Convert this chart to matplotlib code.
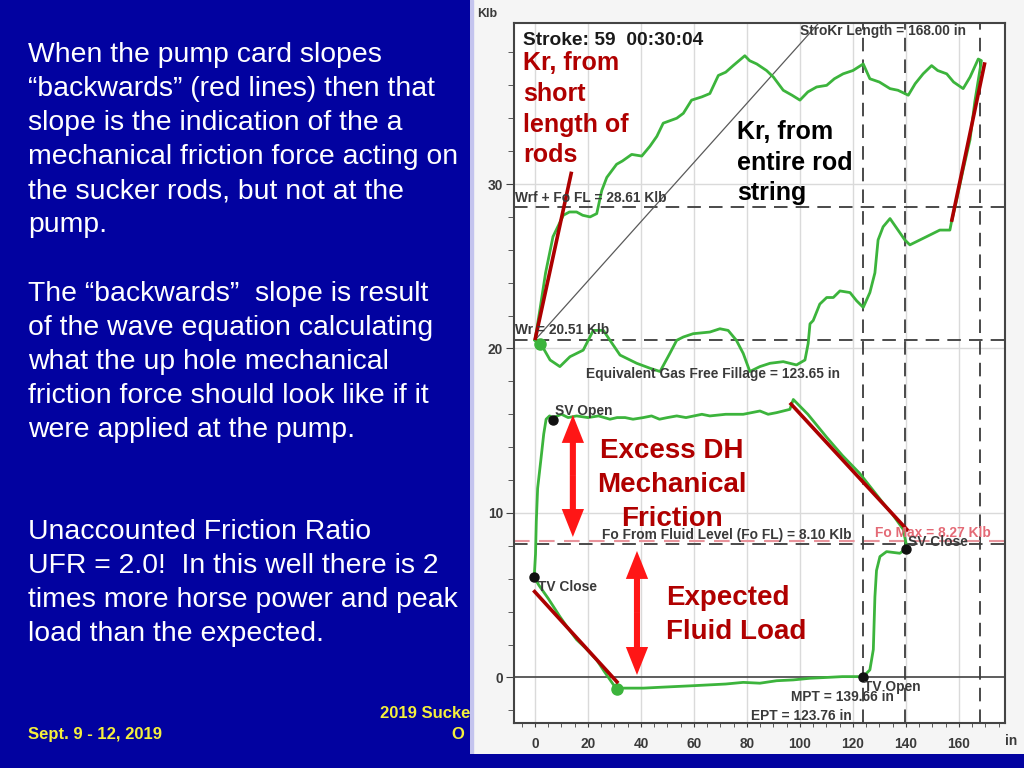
import matplotlib
matplotlib.use('Agg')
import matplotlib.pyplot as plt
from matplotlib.patches import Rectangle

plt.rcParams['font.family'] = ['Liberation Sans', 'DejaVu Sans']

# surface card, upstroke (left -> right)
up_x = [0, 2, 4, 6.8, 10.7, 13, 15.7, 18, 20.8, 23.3, 25.2, 27.1, 30.8, 33, 36.5, 40.3, 43.4, 46, 48.4,
        53.5, 56, 59.1, 63, 66, 69.2, 72, 74.8, 79.2, 81, 83.7, 87.4, 90, 93.7, 97, 100, 103, 106.3,
        110.1, 113, 116.3, 120, 123.9, 126.4, 130, 134, 137, 140.9, 143.5, 146.5, 149.7, 152, 155.4,
        158, 161.6, 164.2, 167.3, 168.5]
up_y = [20.51, 22.5, 24.6, 26.8, 28.1, 28.3, 28.3, 28.1, 28.0, 28.2, 29.6, 30.4, 31.2, 31.4, 31.8, 31.7,
        32.3, 32.9, 33.7, 34.0, 34.3, 35.1, 35.3, 35.5, 36.6, 36.8, 37.2, 37.8, 37.5, 37.3, 36.9, 36.5,
        35.7, 35.4, 35.1, 35.6, 35.9, 36.0, 36.4, 36.7, 36.9, 37.3, 36.4, 36.2, 35.8, 35.7, 35.4, 36.1,
        36.7, 37.2, 36.9, 36.7, 36.2, 35.8, 36.5, 37.6, 37.5]

# surface card, downstroke (right -> left)
dn_x = [168.5, 166, 164.2, 161.5, 159.1, 157.2, 156.6, 152.8, 147.8, 141.5, 139.6, 134, 131.4, 129.5,
        128.3, 126.4, 123.9, 121.4, 118.9, 115.1, 112.6, 110.1, 107.5, 105, 103.8, 103.1, 101.9, 98.7,
        93.7, 88.7, 84.9, 81.1, 78.6, 76, 72.9, 69.8, 66, 59.7, 56, 53.5, 50.9, 47.2, 43.4, 38.4, 32.1,
        28.3, 25.8, 22, 18.2, 13.2, 9.4, 5.7, 2.5, 0]
dn_y = [37.5, 35.0, 32.7, 30.8, 29.0, 27.7, 27.2, 27.2, 26.8, 26.3, 26.6, 27.9, 27.4, 26.6, 24.6, 23.4,
        22.5, 22.9, 23.4, 23.5, 23.1, 23.1, 22.7, 21.7, 21.5, 20.3, 19.3, 19.0, 19.2, 19.1, 18.9, 18.6,
        19.7, 20.5, 21.1, 21.2, 21.0, 20.9, 20.7, 20.5, 19.7, 18.6, 18.8, 19.1, 19.6, 20.5, 21.1, 21.1,
        19.9, 19.5, 18.9, 19.3, 20.2, 20.51]

# pump card (closed loop, starts at TV close)
pump_x = [-0.3, 0.2, 0.5, 1.0, 2.2, 3.3, 4.2, 5.5, 6.9, 10, 12.5, 15.7, 20, 24, 28.3, 31, 34, 37, 40.9,
          44, 47, 50, 53.5, 57, 60, 63, 66, 72, 78.6, 84.9, 88, 91.2, 96.2, 97.5, 103, 110.1, 116,
          122.6, 127, 131.4, 135, 139, 140.3, 139.9, 137.7, 132.7, 130.2, 128.9, 128.3, 127.7, 126.4,
          123.9, 116, 110.1, 103.8, 97.5, 91.2, 84.9, 78.6, 72, 66, 60, 53.5, 47, 40.9, 33.3, 30.8,
          26, 23.3, 19, 15.7, 12, 9.4, 5, 1.5, -0.3]
pump_y = [6.1, 7.5, 9.5, 11.5, 13.2, 14.8, 15.7, 15.9, 15.8, 16.0, 15.8, 15.9, 15.8, 15.9, 15.7, 15.8,
          15.8, 15.7, 15.8, 15.9, 15.7, 15.8, 15.9, 15.8, 15.9, 16.0, 15.9, 16.0, 16.0, 16.2, 16.0,
          16.1, 16.3, 16.9, 16.0, 14.6, 13.5, 12.4, 11.5, 10.6, 9.9, 9.0, 7.95, 7.8, 7.55, 7.65, 7.35,
          6.5, 4.9, 1.7, 0.46, 0.05, 0.05, 0.0, -0.05, -0.15, -0.2, -0.35, -0.3, -0.4, -0.45, -0.5,
          -0.55, -0.6, -0.65, -0.65, -0.72, 0.4, 1.06, 1.8, 2.3, 3.1, 3.7, 4.8, 5.6, 6.1]

# reference values from the card
stroke_len = 168.00
ept = 123.76
mpt = 139.66
wrf_fo = 28.61
wr = 20.51
fo_fl = 8.10
fo_max = 8.27
kr_slope = 0.18

green_dots = [(1.9, 20.3), (30.8, -0.72)]
black_dots = [(-0.4, 6.1), (6.9, 15.65), (140.0, 7.8), (123.9, 0.05)]

# red slope lines drawn on the slide
red_lines = [((0, 20.51), (13.8, 30.75)),
             ((157.2, 27.7), (169.8, 37.4)),
             ((96.2, 16.7), (140.9, 8.9)),
             ((-0.6, 5.3), (31.4, -0.35))]

# double arrows (x, y bottom, y top)
arrows = [(14.3, 8.54, 15.96), (38.5, 0.15, 7.69)]

left_lines = ["When the pump card slopes",
              "\u201cbackwards\u201d (red lines) then that",
              "slope is the indication of the a",
              "mechanical friction force acting on",
              "the sucker rods, but not at the",
              "pump.",
              "The \u201cbackwards\u201d  slope is result",
              "of the wave equation calculating",
              "what the up hole mechanical",
              "friction force should look like if it",
              "were applied at the pump.",
              "Unaccounted Friction Ratio",
              "UFR = 2.0!  In this well there is 2",
              "times more horse power and peak",
              "load than the expected."]
left_base = [62, 96, 130, 164, 198, 232, 301, 335, 369, 403, 437, 539, 573, 607, 641]

W, H = 1024, 768
def fx(px):
    return px / W
def fy(py):
    return 1 - py / H

fig = plt.figure(figsize=(10.24, 7.68), dpi=100)
fig.patch.set_facecolor('#0202A0')

# white panel holding the card
panel = fig.add_axes([fx(470), fy(754), fx(1024) - fx(470), fy(0) - fy(754)], zorder=0)
panel.set_facecolor('#F5F5F5')
panel.set_xticks([])
panel.set_yticks([])
for s in panel.spines.values():
    s.set_visible(False)
panel.add_patch(Rectangle((0, 0), 0.006, 1, transform=panel.transAxes, color='#C4C4EE'))

ax = fig.add_axes([fx(514), fy(723), fx(1005) - fx(514), fy(23) - fy(723)], zorder=1)
ax.set_facecolor('white')
ax.set_xlim(-7.92, 177.4)
ax.set_ylim(-2.77, 39.79)

for v in range(0, 161, 20):
    ax.axvline(v, color='#DADADA', lw=1, zorder=1)
for v in [10, 20, 30]:
    ax.axhline(v, color='#DADADA', lw=1, zorder=1)
ax.axhline(0, color='#505050', lw=1.3, zorder=2)

dash = (0, (7.5, 4.5))
for v in [ept, mpt, stroke_len]:
    ax.axvline(v, color='#3C3C3C', lw=1.3, ls=dash, zorder=2)
ax.axhline(fo_max, color='#E8949C', lw=1.5, ls=dash, zorder=2)
for v in [wrf_fo, wr, fo_fl]:
    ax.axhline(v, color='#3C3C3C', lw=1.3, ls=dash, zorder=2)

# Kr line for entire rod string
ax.plot([0, 120], [wr, wr + kr_slope * 120], color='#5A5A5A', lw=0.9, zorder=3)

ax.plot(up_x + dn_x, up_y + dn_y, color='#3CB43C', lw=2, zorder=4)
ax.plot(pump_x, pump_y, color='#3CB43C', lw=2, zorder=4)
ax.plot([p[0] for p in green_dots], [p[1] for p in green_dots], 'o', color='#3CB43C', ms=8, zorder=5)
ax.plot([p[0] for p in black_dots], [p[1] for p in black_dots], 'o', color='#111111', ms=6.5, zorder=5)

for (x0, y0), (x1, y1) in red_lines:
    ax.plot([x0, x1], [y0, y1], color='#AC0000', lw=2.6, solid_capstyle='butt', zorder=6)

for x, y0, y1 in arrows:
    mid = (y0 + y1) / 2
    for end in (y0, y1):
        ax.arrow(x, mid, 0, end - mid, width=2.3, head_width=8.4, head_length=1.7,
                 length_includes_head=True, color='#FF1616', lw=0, zorder=6)

lab = dict(fontsize=9.9, fontweight='bold', color='#3A3A3A', va='center', ha='left', zorder=7)
ax.text(-7.6, 29.15, 'Wrf + Fo FL = 28.61 Klb', **lab)
ax.text(-7.6, 21.13, 'Wr = 20.51 Klb', **lab)
ax.text(19.2, 18.45, 'Equivalent Gas Free Fillage = 123.65 in', **lab)
ax.text(7.5, 16.2, 'SV Open', **lab)
ax.text(25.3, 8.66, 'Fo From Fluid Level (Fo FL) = 8.10 Klb', **lab)
ax.text(128.3, 8.78, 'Fo Max = 8.27 Klb', **{**lab, 'color': '#E46A76'})
ax.text(140.8, 8.24, 'SV Close', **lab)
ax.text(1.1, 5.5, 'TV Close', **lab)
ax.text(124.2, -0.58, 'TV Open', **lab)
ax.text(96.6, -1.19, 'MPT = 139.66 in', **lab)
ax.text(81.5, -2.34, 'EPT = 123.76 in', **lab)
ax.text(100, 39.3, 'StroKr Length = 168.00 in', **lab)
ax.text(-4.5, 38.75, 'Stroke: 59  00:30:04', fontsize=13.8, fontweight='bold', color='#1A1A1A',
        va='center', ha='left', zorder=7)

ax.set_xticks(range(0, 161, 20))
ax.set_xticks(range(-5, 176, 5), minor=True)
ax.set_yticks([0, 10, 20, 30])
ax.set_yticks(range(-2, 39, 2), minor=True)
ax.tick_params(axis='x', which='both', length=3, color='#404040', pad=7, labelsize=9.9, labelcolor='#3A3A3A')
ax.tick_params(axis='y', which='major', length=6, color='#404040', pad=2, labelsize=9.9, labelcolor='#3A3A3A')
ax.tick_params(axis='y', which='minor', length=4, color='#404040')
ax.tick_params(which='minor', labelbottom=False, labelleft=False)
for t in ax.get_xticklabels() + ax.get_yticklabels():
    t.set_fontweight('bold')
for s in ax.spines.values():
    s.set_color('#444444')
    s.set_linewidth(1.5)

fig.text(fx(477), fy(14), 'Klb', fontsize=9, fontweight='bold', color='#3A3A3A', va='center', zorder=3)
fig.text(fx(1011), fy(741), 'in', fontsize=9.9, fontweight='bold', color='#3A3A3A', va='center',
         ha='center', zorder=3)

# slide annotations
red_txt = '#B00000'
for s, b in zip(['Kr, from', 'short', 'length of', 'rods'], [70, 101, 132, 162]):
    fig.text(fx(523), fy(b), s, fontsize=18, fontweight='bold', color=red_txt, va='baseline', zorder=3)
for s, b in zip(['Kr, from', 'entire rod', 'string'], [139, 170, 200]):
    fig.text(fx(737), fy(b), s, fontsize=18, fontweight='bold', color='black', va='baseline', zorder=3)
for s, b in zip(['Excess DH', 'Mechanical', 'Friction'], [458, 492, 526]):
    fig.text(fx(672), fy(b), s, fontsize=20, fontweight='bold', color=red_txt, va='baseline',
             ha='center', zorder=3)
for s, b in zip(['Expected', 'Fluid Load'], [605, 639]):
    fig.text(fx(666), fy(b), s, fontsize=20, fontweight='bold', color=red_txt, va='baseline', zorder=3)

for s, b in zip(left_lines, left_base):
    fig.text(fx(28), fy(b), s, fontsize=20.4, color='white', va='baseline')

fig.text(fx(28), fy(739), 'Sept. 9 - 12, 2019', fontsize=12, fontweight='bold', color='#F4F03C',
         va='baseline')
# footer title, the rest of it is hidden behind the card panel
fig.text(fx(380), fy(718), '2019 Sucke', fontsize=12, fontweight='bold',
         color='#F4F03C', va='baseline', zorder=-1)
fig.text(fx(451), fy(739), 'O', fontsize=12, fontweight='bold',
         color='#F4F03C', va='baseline', zorder=-1)

fig.savefig('out.png', dpi=100, facecolor=fig.get_facecolor())
